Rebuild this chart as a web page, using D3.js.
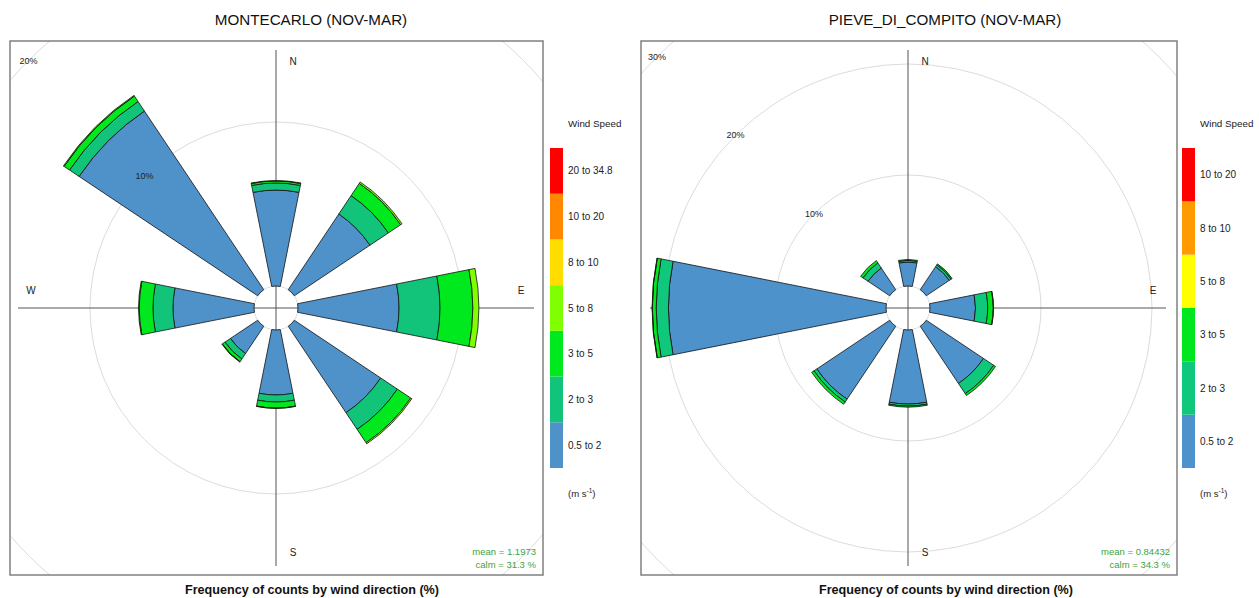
<!DOCTYPE html>
<html><head><meta charset="utf-8">
<script src="https://cdn.jsdelivr.net/npm/d3@7"></script>
<style>body{margin:0;background:#fff;}svg{display:block;font-family:"Liberation Sans",Arial,sans-serif;}</style>
</head><body><svg id="c" width="1259" height="598"></svg>
<script>
const directions = [0, 45, 90, 135, 180, 225, 270, 315];
// MONTECARLO
const mcBins = ["0.5 to 2","2 to 3","3 to 5","5 to 8","8 to 10","10 to 20","20 to 34.8"];
const mcColors = ["#4f92ca","#12c47a","#00e81e","#80ff00","#ffdd00","#ff8800","#ff0000"];
const mc_0_5_2 = [5.85, 5.55, 6.16, 6.34, 3.96, 2.0, 4.94, 13.1];
const mc_2_3   = [0.43, 1.35, 2.5, 1.22, 0.43, 0.4, 1.22, 0.7];
const mc_3_5   = [0.12, 0.9, 2.0, 0.98, 0.37, 0.2, 0.84, 0.4];
const mc_5_8   = [0.03, 0.1, 0.37, 0.08, 0.02, 0.03, 0.04, 0.05];
const mc_8_10  = [0,0,0,0,0,0,0,0];
const mc_10_20 = [0,0,0,0,0,0,0,0];
const mc_20_35 = [0,0,0,0,0,0,0,0];
const mcTicks = [10, 20];
// PIEVE_DI_COMPITO
const pcBins = ["0.5 to 2","2 to 3","3 to 5","5 to 8","8 to 10","10 to 20"];
const pcColors = ["#4e92cc","#10c87b","#00e61f","#ffff00","#ff9a00","#ff0000"];
const pc_0_5_2 = [2.16, 2.5, 4.1, 6.2, 6.67, 7.9, 19.6, 2.35];
const pc_2_3   = [0.15, 0.2, 1.1, 1.1, 0.18, 0.3, 1.1, 0.55];
const pc_3_5   = [0.08, 0.1, 0.5, 0.2, 0.1, 0.25, 0.35, 0.25];
const pc_5_8   = [0, 0, 0.02, 0, 0, 0, 0.02, 0];
const pc_8_10  = [0,0,0,0,0,0,0,0];
const pc_10_20 = [0,0,0,0,0,0,0,0];
const pcTicks = [10, 20, 30];

const svg = d3.select("#c");
const toRad = Math.PI/180;

function panel(o){
  const g = svg.append("g");
  const cx = o.cx, cy = o.cy;
  g.append("text").attr("x", o.titleX).attr("y", 25).attr("text-anchor","middle")
    .attr("font-size", 15.2).attr("fill","#111").text(o.title);
  g.append("text").attr("x", o.titleX+1).attr("y", 594).attr("text-anchor","middle")
    .attr("font-size", 12.6).attr("font-weight","bold").attr("fill","#111")
    .text("Frequency of counts by wind direction (%)");
  const clipId = "clip"+o.id;
  svg.append("clipPath").attr("id", clipId).append("rect")
    .attr("x", o.bx0).attr("y", o.by0).attr("width", o.bx1-o.bx0).attr("height", o.by1-o.by0);
  const r = d3.scaleLinear().domain([0,10]).range([22, 22+o.k*10]);
  const pg = g.append("g").attr("clip-path", `url(#${clipId})`);
  pg.selectAll("circle.grid").data(o.ticks).join("circle")
    .attr("cx", cx).attr("cy", cy).attr("r", d => r(d))
    .attr("fill","none").attr("stroke","#dcdcdc").attr("stroke-width",1);
  pg.append("circle").attr("cx",cx).attr("cy",cy).attr("r", r(0))
    .attr("fill","none").attr("stroke","#dcdcdc").attr("stroke-width",1);
  const L = 258;
  pg.append("line").attr("x1",cx).attr("x2",cx).attr("y1",cy-L).attr("y2",cy+L).attr("stroke","#555").attr("stroke-width",1);
  pg.append("line").attr("x1",cx-L).attr("x2",cx+L).attr("y1",cy).attr("y2",cy).attr("stroke","#555").attr("stroke-width",1);
  const cl = [["N", cx+17, cy-243],["S", cx+17, cy+248],["W", cx-245, cy-14],["E", cx+245, cy-14]];
  pg.selectAll("text.cl").data(cl).join("text").attr("x",d=>d[1]).attr("y",d=>d[2])
    .attr("text-anchor","middle").attr("font-size",10).attr("fill","#222").text(d=>d[0]);
  const arc = d3.arc();
  directions.forEach((dir, i) => {
    let cum = 0;
    o.series.forEach((s, j) => {
      const v = s[i];
      if (v <= 0) return;
      const a0 = cum, a1 = cum + v; cum = a1;
      pg.append("path").attr("transform", `translate(${cx},${cy})`)
        .attr("d", arc({innerRadius: r(a0), outerRadius: r(a1),
              startAngle: (dir-11.25)*toRad, endAngle: (dir+11.25)*toRad}))
        .attr("fill", o.colors[j]).attr("stroke","#111").attr("stroke-width",0.8);
    });
  });
  pg.selectAll("text.tick").data(o.ticks).join("text")
    .attr("x", d => cx - r(d)*Math.SQRT1_2).attr("y", d => cy - r(d)*Math.SQRT1_2 + 3)
    .attr("text-anchor","middle").attr("font-size",9).attr("fill","#222").text(d => d + "%");
  g.append("rect").attr("x", o.bx0).attr("y", o.by0).attr("width", o.bx1-o.bx0).attr("height", o.by1-o.by0)
    .attr("fill","none").attr("stroke","#808080").attr("stroke-width",1.5);
  g.append("text").attr("x", o.bx1-7).attr("y", 555).attr("text-anchor","end")
    .attr("font-size",9.5).attr("fill","#3ea33e").text(o.mean);
  g.append("text").attr("x", o.bx1-7).attr("y", 568).attr("text-anchor","end")
    .attr("font-size",9.5).attr("fill","#3ea33e").text(o.calm);
  const n = o.bins.length;
  const ly = d3.scaleLinear().domain([0, n]).range([468, 148]);
  const lg = g.append("g");
  lg.append("text").attr("x", o.lx+18).attr("y", 127).attr("font-size",9.8).attr("fill","#222").text("Wind Speed");
  lg.selectAll("rect").data(o.bins).join("rect")
    .attr("x", o.lx).attr("width", 13)
    .attr("y", (d,i) => ly(i+1)).attr("height", (d,i) => ly(i) - ly(i+1))
    .attr("fill", (d,i) => o.colors[i]);
  lg.selectAll("text.lab").data(o.bins).join("text")
    .attr("x", o.lx+18).attr("y", (d,i) => (ly(i)+ly(i+1))/2 + 3.5)
    .attr("font-size",10).attr("fill","#222").text(d => d);
  const u = lg.append("text").attr("x", o.lx+18).attr("y", 497).attr("font-size",9.5).attr("fill","#222");
  u.append("tspan").text("(m s");
  u.append("tspan").attr("dy",-4).attr("font-size",6.5).text("-1");
  u.append("tspan").attr("dy",4).text(")");
}

panel({id:"mc", title:"MONTECARLO (NOV-MAR)", titleX:311, cx:276, cy:308, bx0:10, bx1:543, by0:41, by1:575,
  k:16.4, ticks: mcTicks, bins: mcBins, colors: mcColors,
  series:[mc_0_5_2, mc_2_3, mc_3_5, mc_5_8, mc_8_10, mc_10_20, mc_20_35],
  mean:"mean  =  1.1973", calm:"calm =  31.3 %", lx:550});
panel({id:"pc", title:"PIEVE_DI_COMPITO (NOV-MAR)", titleX:945, cx:908, cy:308, bx0:641, bx1:1177, by0:41, by1:575,
  k:11.1, ticks: pcTicks, bins: pcBins, colors: pcColors,
  series:[pc_0_5_2, pc_2_3, pc_3_5, pc_5_8, pc_8_10, pc_10_20],
  mean:"mean  =  0.84432", calm:"calm =  34.3 %", lx:1182});
</script></body></html>
